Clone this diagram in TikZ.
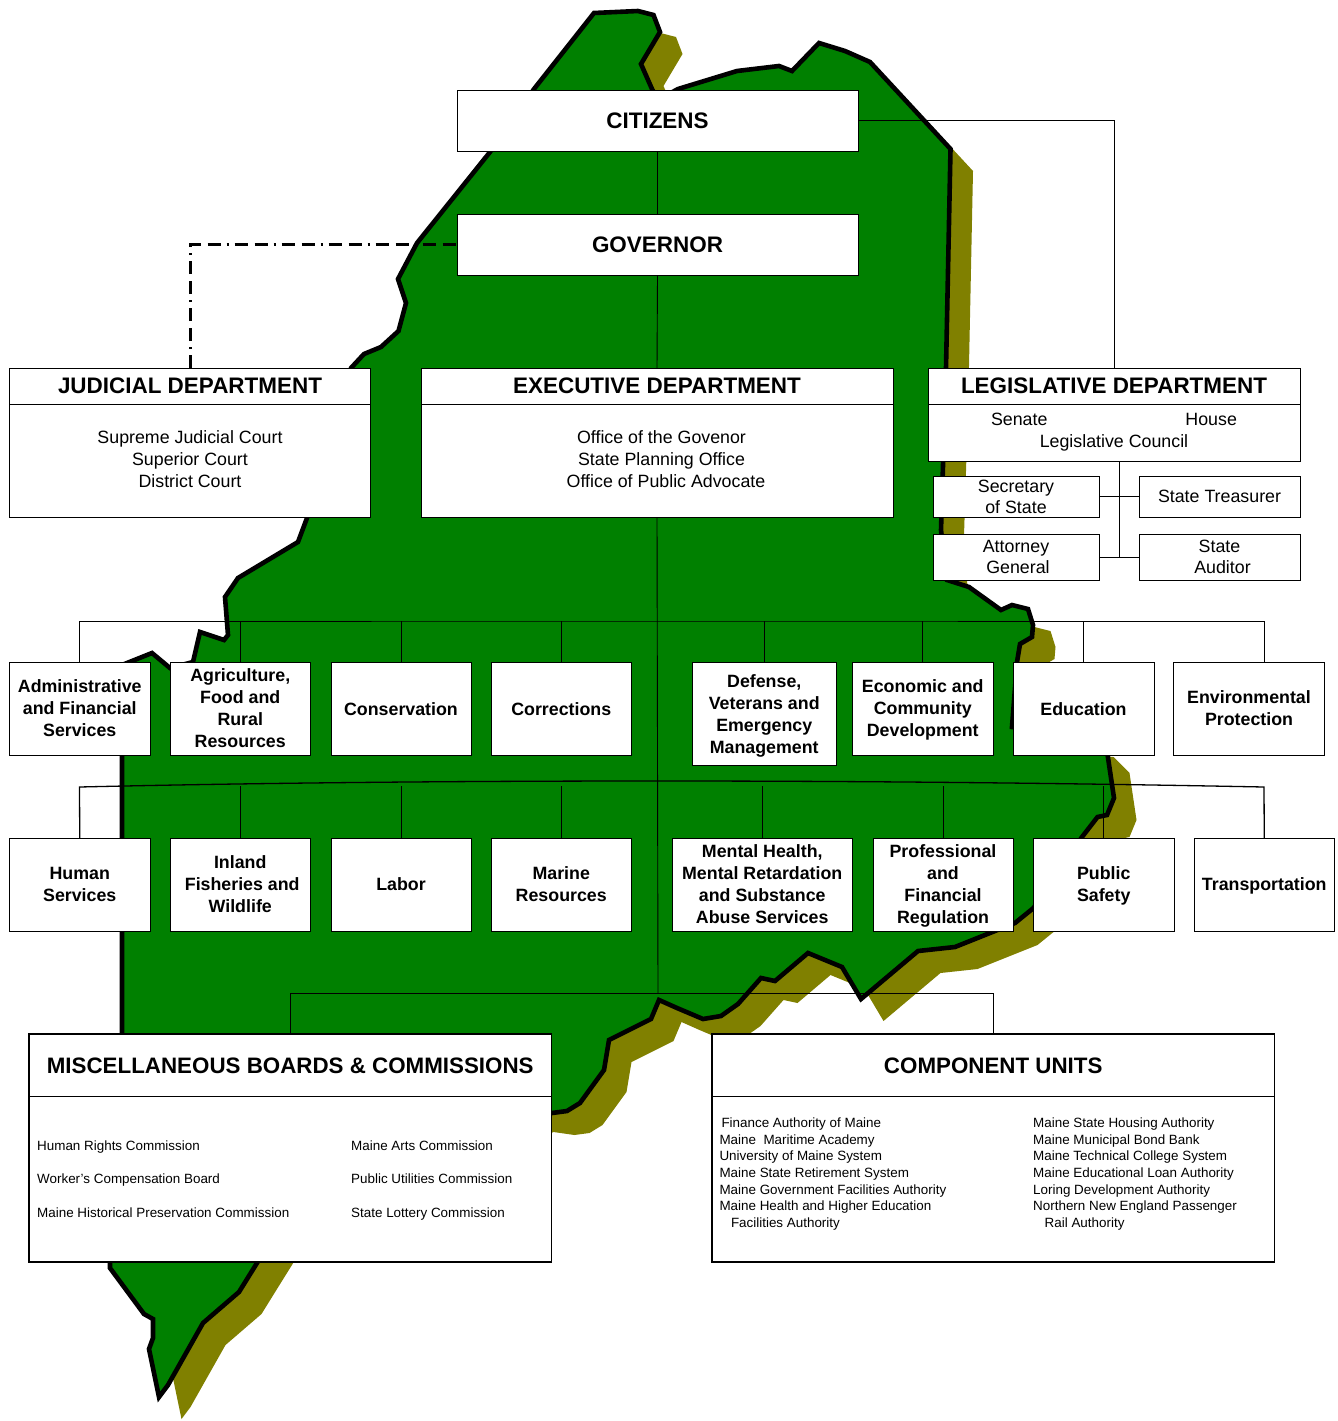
\documentclass[tikz,border=0pt]{standalone}
\usepackage{fontspec}
\setmainfont{Liberation Sans}
\newcommand\bodyfont{\fontsize{17.8}{22}\selectfont}
\newcommand\subfont{\fontsize{17.8}{21.3}\selectfont}
\newcommand\deptfont{\fontsize{17.8}{22}\selectfont\bfseries}
\newcommand\headfont{\fontsize{22.45}{26}\selectfont\bfseries}
\newcommand\bigheadfont{\fontsize{22.35}{26}\selectfont\bfseries}
\newcommand\miscfont{\fontsize{13.42}{33.5}\selectfont}
\newcommand\compfont{\fontsize{13.42}{16.65}\selectfont}
% name, x1, y1, x2, y2, font, first baseline, lines
\newcommand\bx[9][orgbox]{%
  \pgfmathsetmacro\bxw{#5-#3}\pgfmathsetmacro\bxh{#6-#4}%
  \pgfmathsetmacro\bxcx{(#3+#5)/2}\pgfmathsetmacro\bxcy{(#4+#6)/2}%
  \pgfmathsetmacro\bxr{\bxcy-#8}%
  \node[#1,minimum width=\bxw pt,minimum height=\bxh pt] (#2) at (\bxcx,\bxcy)
    {#7\raisebox{\bxr pt}[0pt][0pt]{\begin{tabular}[t]{@{}c@{}}#9\end{tabular}}};}
% name, x, first baseline, font, lines (left aligned)
\newcommand\tx[5]{%
  \node[anchor=west,inner sep=0pt] (#1) at (#2,#3)
    {#4\raisebox{0pt}[0pt][0pt]{\begin{tabular}[t]{@{}l@{}}#5\end{tabular}}};}
\definecolor{mapgreen}{RGB}{0,128,0}
\definecolor{mapolive}{RGB}{128,128,0}
\tikzset{
  orgbox/.style={draw=black,fill=white,line width=0.9pt,inner sep=0pt,outer sep=0pt},
  heavybox/.style={orgbox,line width=1.3pt},
  link/.style={draw=black,line width=0.9pt},
  judlink/.style={draw=black,line width=3pt,dash pattern=on 13pt off 6pt on 2pt off 6pt on 13pt off 7pt},
  mapline/.style={draw=black,line width=4.6pt,fill=mapgreen,line join=miter,miter limit=6},
  mapshade/.style={fill=mapolive}
}
\newcommand\mainepath{(594,13) -- (638,11) -- (653.5,15) -- (660,32) -- (641,64) -- (652,89) -- (658,100)
 -- (678,89) -- (737,71) -- (779,66) -- (792,71) -- (819,43) -- (845,51) -- (870,62)
 -- (950.5,149) -- (946,368) -- (941,530) -- (947,580) -- (969,587) -- (1001,610) -- (1012,605) -- (1028,609)
 -- (1033,625) -- (1032,637) -- (1020,644) -- (1017,662) -- (1012,727) -- (1091,735) -- (1107,751) -- (1114,798) -- (1107,815)
 -- (1097.5,817) -- (1082,837) -- (1033.5,908) -- (1015,923) -- (955,947) -- (918,951) -- (861,999) -- (842,967)
 -- (808,953) -- (775,981) -- (761,978) -- (738,1004) -- (721,1016) -- (703,1019) -- (677,1008) -- (659,1000)
 -- (651,1019) -- (609,1040) -- (604,1070) -- (580,1103) -- (567,1111) -- (552,1113) -- (531,1110) -- (290,1210)
 -- (257,1263) -- (239,1292) -- (203,1323) -- (168,1385) -- (159,1397) -- (149,1349) -- (153,1338) -- (153,1319)
 -- (144,1314) -- (110,1268) -- (110,1255) -- (122,1034) -- (122,756) -- (122,665) -- (152,653) -- (170,668)
 -- (193,662) -- (200,632) -- (224,640) -- (228,635) -- (225,597) -- (238,578) -- (298,542) -- (307,518)
 -- (351,368) -- (364,354) -- (381,347) -- (398.5,331) -- (406,303) -- (398,279) -- (417,243) -- (490,152)
 -- (534,89) -- cycle}
\begin{document}
\begin{tikzpicture}[x=1pt,y=-1pt]
\useasboundingbox (0,0) rectangle (1338,1421);
% map
\begin{scope}[shift={(22.5,22)}]
  \path[mapshade] \mainepath;
\end{scope}
\path[mapline] \mainepath;
% top boxes
\bx{citizens}{457}{90}{858}{151}{\headfont}{128}{CITIZENS}
\bx{governor}{457}{214}{858}{275}{\headfont}{252}{GOVERNOR}
\bx{judh}{9.5}{368}{370.5}{404}{\headfont}{393}{JUDICIAL DEPARTMENT}
\bx{judb}{9.5}{404}{370.5}{517}{\bodyfont}{443.5}{Supreme Judicial Court\\Superior Court\\District Court}
\bx{exech}{421}{368}{893}{404}{\headfont}{393}{EXECUTIVE DEPARTMENT}
\bx{execb}{421}{404}{893}{517}{\bodyfont}{443.5}{\hspace*{9pt}Office of the Govenor\\\hspace*{9pt}State Planning Office\\\hspace*{18pt}Office of Public Advocate}
\bx{legh}{928}{368}{1300}{404}{\headfont}{393}{LEGISLATIVE DEPARTMENT}
\bx{legb}{928}{404}{1300}{461}{\bodyfont}{425}{Senate\hspace*{138pt}House\\Legislative Council}
\bx{secretary}{933}{476}{1099}{517}{\subfont}{492}{Secretary\\of State}
\bx{treasurer}{1139}{476}{1300}{517}{\bodyfont}{502}{State Treasurer}
\bx{attorney}{933}{534}{1099}{580}{\subfont}{552}{Attorney\\\hspace*{4pt}General}
\bx{auditor}{1139}{534}{1300}{580}{\subfont}{552}{State\\\hspace*{6pt}Auditor}
% departments, first row
\bx{admin}{9.5}{662}{150}{755}{\deptfont}{692}{Administrative\\and Financial\\Services}
\bx{agri}{170}{662}{310.5}{755}{\deptfont}{681.5}{Agriculture,\\Food and\\Rural\\Resources}
\bx{conserv}{331}{662}{471}{755}{\deptfont}{715}{Conservation}
\bx{correct}{491}{662}{631.5}{755}{\deptfont}{715}{Corrections}
\bx{defense}{692}{662}{836.5}{765}{\deptfont}{687.5}{Defense,\\Veterans and\\Emergency\\Management}
\bx{econ}{852.5}{662}{993}{755}{\deptfont}{692.5}{Economic and\\Community\\Development}
\bx{educ}{1013}{662}{1154}{755}{\deptfont}{715}{Education}
\bx{environ}{1173.5}{662}{1324.5}{755}{\deptfont}{703.5}{Environmental\\Protection}
% departments, second row
\bx{human}{9.5}{838}{150}{931}{\deptfont}{879}{Human\\Services}
\bx{inland}{170}{838}{310.5}{931}{\deptfont}{868}{Inland\\\hspace*{4pt}Fisheries and\\Wildlife}
\bx{labor}{331}{838}{471}{931}{\deptfont}{890}{Labor}
\bx{marine}{491}{838}{631.5}{931}{\deptfont}{879}{Marine\\Resources}
\bx{mental}{672}{838}{852.5}{931}{\deptfont}{857}{Mental Health,\\Mental Retardation\\and Substance\\Abuse Services}
\bx{prof}{873}{838}{1013}{931}{\deptfont}{857}{Professional\\and\\Financial\\Regulation}
\bx{safety}{1033.5}{838}{1174}{931}{\deptfont}{879}{Public\\Safety}
\bx{transp}{1194}{838}{1334.5}{931}{\deptfont}{890}{Transportation}
% boards
\bx[heavybox]{misch}{29}{1034}{551.5}{1096.5}{\bigheadfont}{1073}{MISCELLANEOUS BOARDS \& COMMISSIONS}
\bx[heavybox]{miscb}{29}{1096.5}{551.5}{1262}{\miscfont}{1200}{}
\bx[heavybox]{comph}{712}{1034}{1274.5}{1096.5}{\bigheadfont}{1073}{COMPONENT UNITS}
\bx[heavybox]{compb}{712}{1096.5}{1274.5}{1262}{\compfont}{1200}{}
\tx{miscl}{37}{1150}{\miscfont}{Human Rights Commission\\Worker's Compensation Board\\Maine Historical Preservation Commission}
\tx{miscr}{351}{1150}{\miscfont}{Maine Arts Commission\\Public Utilities Commission\\State Lottery Commission}
\tx{compl}{719.3}{1127.5}{\compfont}{\hspace*{2pt}Finance Authority of Maine\\Maine\ \ Maritime Academy\\University of Maine System\\Maine State Retirement System\\Maine Government Facilities Authority\\Maine Health and Higher Education\\\hspace*{11.5pt}Facilities Authority}
\tx{compr}{1033}{1127.5}{\compfont}{Maine State Housing Authority\\Maine Municipal Bond Bank\\Maine Technical College System\\Maine Educational Loan Authority\\Loring Development Authority\\Northern New England Passenger\\\hspace*{11.5pt}Rail Authority}
% junction coordinates
\coordinate (busA) at (657.5,621);
\coordinate (busAr) at (1264,621);
\coordinate (busB) at (657.5,781);
\coordinate (busBl) at (79.5,787);
\coordinate (busBr) at (1264,787);
\coordinate (busBdrop) at (400,786);
\coordinate (busC) at (658,993);
\coordinate (legJ) at (1119.3,557);
% connectors
\draw[link] (citizens.south) -- (governor.north);
\draw[link] (governor.south) -- (exech.north);
\draw[link] (execb.south) -- (busC);
\draw[link] (citizens.east) -| (legh.north);
\draw[judlink] (judh.north) |- (governor.west);
\draw[link] (legb.south -| legJ) -- (legJ);
\draw[link] (secretary.east) -- (treasurer.west);
\draw[link] (attorney.east) -- (auditor.west);
\draw[link] (admin.north) |- (busA) -- (busAr) -- (busAr |- environ.north);
\foreach \d in {agri,conserv,correct,defense,econ,educ}
  \draw[link] (\d.north) -- (\d.north |- busA);
\draw[link,line width=1.3pt] (human.north) -- (busBl) .. controls (250,783) and (450,781) .. (busB)
  .. controls (860,781) and (1060,783) .. (busBr) -- (transp.north);
\foreach \d in {inland,labor,marine,mental,prof,safety}
  \draw[link] (\d.north) -- (\d.north |- busBdrop);
\draw[link] (misch.north) |- (busC) -| (comph.north);
\end{tikzpicture}
\end{document}
